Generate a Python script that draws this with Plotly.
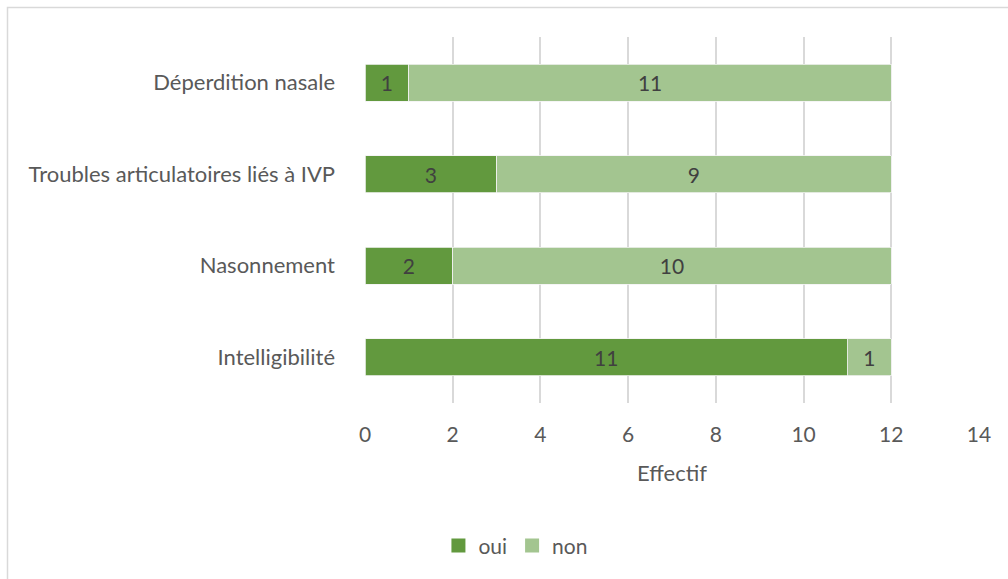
import plotly.graph_objects as go

# Categories listed bottom to top
categories = ["Intelligibilité", "Nasonnement", "Troubles articulatoires liés à IVP", "Déperdition nasale"]
oui_values = [11, 2, 3, 1]
non_values = [1, 10, 9, 11]
x_ticks = [0, 2, 4, 6, 8, 10, 12, 14]

FONT = "Lato"
TEXT_GREY = "#595959"
LABEL_GREY = "#404040"
OUI_COLOR = "#62993E"
NON_COLOR = "#A3C590"
FS = 22

fig = go.Figure()
for name, vals, color in [("oui", oui_values, OUI_COLOR), ("non", non_values, NON_COLOR)]:
    fig.add_trace(go.Bar(
        y=categories, x=vals, name=name, orientation="h", showlegend=False,
        marker=dict(color=color, line=dict(color="#F2F2F2", width=0.8)),
        text=vals, textposition="inside", insidetextanchor="middle",
        textfont=dict(family=FONT, size=FS - 1, color=LABEL_GREY),
        constraintext="none",
    ))
# Square legend keys
for name, color in [("oui", OUI_COLOR), ("non", NON_COLOR)]:
    fig.add_trace(go.Scatter(
        x=[None], y=[None], mode="markers", name=name,
        marker=dict(symbol="square", size=14, color=color),
    ))

fig.update_layout(
    width=1008, height=579,
    margin=dict(l=365, r=29, t=37, b=176),
    barmode="stack", bargap=0.6,
    paper_bgcolor="white", plot_bgcolor="white",
    font=dict(family=FONT, size=FS, color=TEXT_GREY),
    uniformtext=dict(mode=False),
    legend=dict(
        orientation="h", x=0.245, xanchor="center", y=-0.39, yanchor="middle",
        font=dict(family=FONT, size=FS - 1, color=TEXT_GREY),
        itemwidth=30, traceorder="normal", tracegroupgap=0,
    ),
    xaxis=dict(
        range=[0, 14], tickvals=x_ticks, showgrid=True, gridcolor="#D9D9D9", gridwidth=1.5,
        zeroline=False, showline=False, ticks="outside", ticklen=13, tickcolor="rgba(0,0,0,0)",
        tickfont=dict(family=FONT, size=FS - 1, color=TEXT_GREY),
        title=dict(text="Effectif", font=dict(family=FONT, size=FS, color=TEXT_GREY), standoff=20),
        fixedrange=True,
    ),
    yaxis=dict(
        categoryorder="array", categoryarray=categories,
        showgrid=False, zeroline=False, showline=False, ticks="",
        ticklabelstandoff=29,
        tickfont=dict(family=FONT, size=FS, color=TEXT_GREY),
        fixedrange=True,
    ),
    shapes=[dict(
        type="rect", xref="paper", yref="paper",
        x0=(7.5 - 365) / 614, x1=(1015 - 365) / 614,
        y0=(403 - 590) / 366, y1=(403 - 7.5) / 366,
        line=dict(color="#D9D9D9", width=1.5), fillcolor="rgba(0,0,0,0)", layer="below",
    )],
)

fig.write_html("out.html")
